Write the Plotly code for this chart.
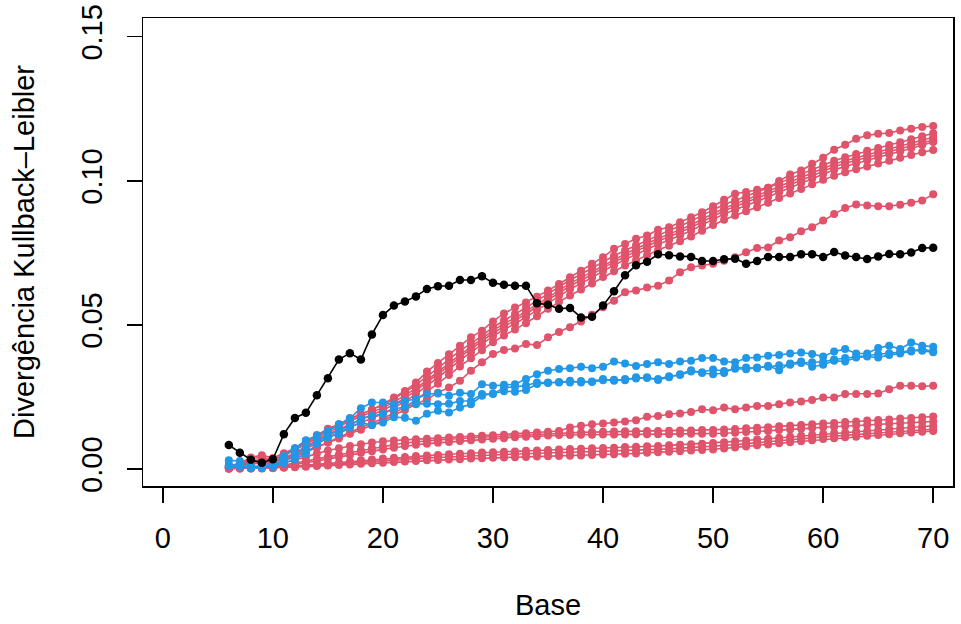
import plotly.graph_objects as go

base = list(range(6, 71))

black = [.0083, .0056, .0032, .0022, .0034,
         .0121, .0177, .0195, .0256, .0315, .0380, .0402, .0380, .0467, .0534,
         .0567, .0581, .0599, .0625, .0634, .0636, .0656, .0656, .0669, .0646,
         .0639, .0636, .0636, .0575, .0570, .0556, .0559, .0526, .0528, .0567,
         .0617, .0672, .0707, .0719, .0745, .0742, .0737, .0736, .0722, .0722,
         .0728, .0730, .0712, .0722, .0736, .0736, .0736, .0745, .0745, .0736,
         .0753, .0741, .0736, .0729, .0737, .0746, .0745, .0751, .0767, .0768]

blue1 = [.0030, .0028, .0010, .0008, .0020,
         .0045, .0072, .0100, .0115, .0132, .0155, .0176, .0211, .0231, .0231,
         .0225, .0236, .0243, .0260, .0262, .0254, .0265, .0260, .0294, .0289,
         .0292, .0294, .0312, .0329, .0341, .0347, .0350, .0355, .0350, .0355,
         .0373, .0366, .0357, .0364, .0370, .0364, .0373, .0376, .0385, .0385,
         .0373, .0370, .0385, .0387, .0393, .0396, .0401, .0404, .0399, .0390,
         .0408, .0416, .0401, .0401, .0420, .0428, .0416, .0439, .0428, .0424]

blue2 = [.0015, .0012, .0005, .0006, .0010,
         .0030, .0050, .0075, .0095, .0115, .0135, .0150, .0175, .0184, .0192,
         .0208, .0215, .0226, .0226, .0225, .0226, .0236, .0236, .0260, .0260,
         .0283, .0285, .0290, .0300, .0300, .0300, .0306, .0300, .0304, .0312,
         .0306, .0312, .0314, .0318, .0309, .0318, .0329, .0343, .0333, .0329,
         .0333, .0352, .0352, .0350, .0358, .0343, .0366, .0373, .0355, .0362,
         .0376, .0373, .0387, .0390, .0387, .0396, .0401, .0408, .0416, .0408]

blue3 = [.0010, .0008, .0003, .0004, .0008,
         .0020, .0034, .0053, .0086, .0109, .0121, .0144, .0161, .0153, .0161,
         .0180, .0178, .0167, .0192, .0202, .0196, .0213, .0225, .0254, .0262,
         .0270, .0268, .0274, .0295, .0298, .0302, .0300, .0305, .0302, .0308,
         .0310, .0308, .0318, .0316, .0312, .0322, .0326, .0338, .0336, .0345,
         .0340, .0348, .0346, .0352, .0355, .0360, .0362, .0368, .0370, .0372,
         .0380, .0385, .0390, .0395, .0398, .0402, .0405, .0412, .0410, .0405]

red1 = [.0010, .0020, .0040, .0048, .0038,
        .0055, .0072, .0095, .0118, .0140, .0155, .0176, .0190, .0206, .0225,
        .0248, .0271, .0300, .0338, .0368, .0398, .0428, .0457, .0480, .0512,
        .0540, .0560, .0578, .0598, .0619, .0642, .0665, .0688, .0712, .0735,
        .0764, .0781, .0799, .0810, .0830, .0839, .0856, .0874, .0891, .0912,
        .0934, .0955, .0961, .0969, .0976, .0999, .1022, .1036, .1059, .1080,
        .1108, .1125, .1146, .1158, .1163, .1166, .1175, .1181, .1187, .1190]

red2 = [.0010, .0018, .0036, .0040, .0032,
        .0050, .0068, .0090, .0112, .0134, .0152, .0172, .0190, .0206, .0222,
        .0244, .0266, .0292, .0320, .0350, .0380, .0410, .0436, .0462, .0492,
        .0516, .0538, .0560, .0584, .0610, .0634, .0656, .0676, .0698, .0720,
        .0740, .0758, .0776, .0794, .0812, .0828, .0843, .0860, .0880, .0900,
        .0918, .0932, .0946, .0960, .0976, .0992, .1008, .1024, .1040, .1056,
        .1070, .1082, .1093, .1104, .1114, .1124, .1134, .1144, .1155, .1165]

red3 = [.0006, .0012, .0028, .0034, .0030,
        .0046, .0066, .0086, .0108, .0128, .0148, .0166, .0182, .0198, .0213,
        .0232, .0255, .0280, .0308, .0338, .0367, .0396, .0424, .0452, .0481,
        .0504, .0524, .0547, .0572, .0597, .0621, .0644, .0664, .0684, .0706,
        .0727, .0746, .0764, .0782, .0800, .0815, .0830, .0847, .0867, .0887,
        .0905, .0920, .0934, .0948, .0964, .0980, .0996, .1012, .1028, .1044,
        .1058, .1070, .1080, .1091, .1101, .1111, .1121, .1131, .1141, .1151]

red4 = [.0012, .0016, .0030, .0026, .0022,
        .0038, .0056, .0078, .0100, .0120, .0138, .0156, .0172, .0188, .0204,
        .0224, .0246, .0272, .0300, .0328, .0358, .0388, .0416, .0444, .0472,
        .0494, .0515, .0538, .0563, .0588, .0612, .0635, .0655, .0675, .0698,
        .0718, .0738, .0756, .0773, .0791, .0806, .0821, .0838, .0858, .0878,
        .0896, .0911, .0925, .0939, .0955, .0971, .0987, .1003, .1019, .1035,
        .1049, .1061, .1071, .1081, .1091, .1101, .1111, .1121, .1132, .1142]

red5 = [.0005, .0010, .0024, .0028, .0020,
        .0034, .0050, .0070, .0090, .0110, .0128, .0146, .0162, .0177, .0192,
        .0212, .0234, .0260, .0288, .0317, .0347, .0377, .0404, .0432, .0461,
        .0484, .0504, .0527, .0552, .0577, .0602, .0624, .0644, .0664, .0687,
        .0707, .0727, .0744, .0762, .0780, .0795, .0810, .0827, .0847, .0867,
        .0885, .0900, .0914, .0928, .0944, .0960, .0976, .0992, .1008, .1024,
        .1038, .1050, .1061, .1071, .1081, .1092, .1102, .1113, .1124, .1135]

red6 = [.0004, .0008, .0018, .0020, .0016,
        .0028, .0042, .0058, .0074, .0092, .0110, .0128, .0144, .0160, .0175,
        .0194, .0215, .0240, .0268, .0296, .0326, .0356, .0384, .0412, .0440,
        .0463, .0484, .0506, .0530, .0556, .0580, .0602, .0623, .0644, .0666,
        .0686, .0706, .0724, .0742, .0760, .0775, .0790, .0807, .0827, .0847,
        .0865, .0880, .0894, .0908, .0924, .0940, .0956, .0972, .0988, .1004,
        .1018, .1030, .1040, .1050, .1060, .1070, .1080, .1090, .1099, .1107]

red_mid = [.0010, .0012, .0020, .0022, .0020,
           .0035, .0048, .0062, .0076, .0092, .0106, .0122, .0136, .0152, .0168,
           .0186, .0205, .0225, .0242, .0265, .0283, .0306, .0341, .0370, .0399,
           .0413, .0418, .0434, .0430, .0457, .0475, .0492, .0512, .0535, .0561,
           .0584, .0613, .0619, .0630, .0636, .0654, .0683, .0700, .0706, .0712,
           .0723, .0735, .0752, .0767, .0769, .0793, .0804, .0825, .0839, .0862,
           .0885, .0906, .0918, .0914, .0912, .0912, .0917, .0924, .0932, .0953]

low1 = [.0005, .0006, .0008, .0010, .0012,
        .0020, .0030, .0042, .0054, .0064, .0072, .0080, .0086, .0092, .0096,
        .0099, .0101, .0103, .0105, .0107, .0109, .0111, .0113, .0115, .0117,
        .0119, .0121, .0124, .0127, .0129, .0132, .0144, .0150, .0155, .0158,
        .0161, .0165, .0169, .0181, .0184, .0190, .0193, .0198, .0207, .0204,
        .0213, .0207, .0213, .0219, .0219, .0225, .0231, .0234, .0239, .0248,
        .0248, .0260, .0260, .0260, .0262, .0277, .0289, .0289, .0287, .0289]

low2 = [.0004, .0005, .0007, .0008, .0010,
        .0014, .0020, .0028, .0035, .0042, .0050, .0058, .0065, .0072, .0078,
        .0084, .0090, .0094, .0098, .0101, .0103, .0106, .0108, .0110, .0112,
        .0114, .0116, .0118, .0120, .0122, .0125, .0126, .0127, .0128, .0129,
        .0130, .0131, .0131, .0132, .0132, .0133, .0134, .0134, .0135, .0135,
        .0137, .0139, .0141, .0143, .0145, .0148, .0150, .0153, .0155, .0158,
        .0160, .0163, .0165, .0168, .0170, .0172, .0175, .0177, .0180, .0182]

low3 = [.0003, .0004, .0005, .0006, .0008,
        .0011, .0016, .0022, .0028, .0035, .0042, .0049, .0056, .0062, .0068,
        .0074, .0080, .0084, .0088, .0091, .0094, .0097, .0100, .0102, .0105,
        .0107, .0110, .0112, .0114, .0116, .0118, .0118, .0119, .0119, .0120,
        .0120, .0120, .0121, .0121, .0121, .0121, .0122, .0122, .0122, .0122,
        .0124, .0126, .0128, .0130, .0132, .0135, .0137, .0140, .0142, .0145,
        .0147, .0149, .0151, .0153, .0155, .0157, .0159, .0161, .0163, .0165]

low4 = [.0002, .0003, .0003, .0004, .0005,
        .0007, .0010, .0013, .0016, .0019, .0022, .0026, .0030, .0033, .0036,
        .0039, .0042, .0045, .0047, .0049, .0051, .0053, .0055, .0057, .0058,
        .0060, .0061, .0063, .0064, .0066, .0068, .0069, .0070, .0072, .0073,
        .0074, .0076, .0077, .0079, .0080, .0082, .0084, .0086, .0088, .0090,
        .0093, .0096, .0099, .0102, .0105, .0108, .0112, .0115, .0119, .0122,
        .0125, .0127, .0130, .0132, .0135, .0138, .0141, .0144, .0147, .0150]

low5 = [.0002, .0002, .0003, .0003, .0004,
        .0006, .0008, .0010, .0012, .0014, .0017, .0020, .0023, .0026, .0029,
        .0032, .0034, .0036, .0038, .0040, .0042, .0044, .0046, .0048, .0049,
        .0050, .0052, .0053, .0055, .0056, .0057, .0058, .0059, .0060, .0061,
        .0062, .0063, .0065, .0066, .0068, .0070, .0072, .0074, .0076, .0078,
        .0081, .0084, .0088, .0091, .0094, .0098, .0101, .0105, .0108, .0112,
        .0114, .0117, .0120, .0122, .0125, .0128, .0130, .0133, .0135, .0138]

low6 = [.0001, .0002, .0002, .0002, .0003,
        .0004, .0006, .0008, .0010, .0012, .0014, .0016, .0018, .0020, .0022,
        .0024, .0026, .0028, .0030, .0031, .0033, .0034, .0036, .0037, .0039,
        .0040, .0041, .0042, .0043, .0044, .0045, .0046, .0047, .0049, .0050,
        .0051, .0053, .0054, .0056, .0058, .0060, .0062, .0064, .0066, .0068,
        .0071, .0075, .0078, .0082, .0085, .0089, .0093, .0096, .0100, .0104,
        .0107, .0110, .0112, .0115, .0118, .0121, .0124, .0127, .0129, .0132]

red_series = [red1, red2, red3, red4, red5, red6, red_mid,
              low1, low2, low3, low4, low5, low6]
blue_series = [blue1, blue2, blue3]

x_ticks = [0, 10, 20, 30, 40, 50, 60, 70]
x_ticklabels = ["0", "10", "20", "30", "40", "50", "60", "70"]
y_ticks = [0, 0.05, 0.10, 0.15]
y_ticklabels = ["0.00", "0.05", "0.10", "0.15"]

RED = "#DF536B"
BLUE = "#2297E6"
BLACK = "#000000"
FONT = "Liberation Sans, Arial, Helvetica, sans-serif"

fig = go.Figure()


def add(series, color, size):
    fig.add_trace(go.Scatter(
        x=base, y=series, mode="lines+markers",
        line=dict(color=color, width=1.6),
        marker=dict(color=color, size=size),
        showlegend=False, hoverinfo="skip"))


for s in red_series:
    add(s, RED, 8)
for s in blue_series:
    add(s, BLUE, 8)
add(black, BLACK, 8.5)

fig.update_layout(
    width=961, height=624,
    margin=dict(l=143, r=8, t=18, b=138, autoexpand=False),
    paper_bgcolor="white", plot_bgcolor="white",
    font=dict(family=FONT, size=29, color="black"),
    showlegend=False,
)

fig.update_xaxes(
    range=[-1.8, 71.8], tickmode="array",
    tickvals=x_ticks, ticktext=x_ticklabels,
    showgrid=False, zeroline=False,
    showline=True, linecolor="black", linewidth=1.5, mirror=True,
    ticks="outside", ticklen=15, tickwidth=1.5, tickcolor="black",
    ticklabelstandoff=11, ticklabeloverflow="allow",
    title=dict(text="Base", standoff=41, font=dict(size=29)),
    automargin=False,
)

fig.update_yaxes(
    range=[-0.0059, 0.1565], tickmode="array",
    tickvals=y_ticks, ticktext=y_ticklabels,
    tickangle=-90,
    showgrid=False, zeroline=False,
    showline=True, linecolor="black", linewidth=1.5, mirror=True,
    ticks="outside", ticklen=15, tickwidth=1.5, tickcolor="black",
    ticklabelstandoff=13, ticklabeloverflow="allow",
    title=dict(text="Divergência Kullback–Leibler", standoff=33, font=dict(size=29)),
    automargin=False,
)

# remove the browser's default 8px body margin so the figure fills the window
fig.write_html("out.html",
               config={"displayModeBar": False, "staticPlot": True},
               post_script="document.body.style.margin='0px';")
